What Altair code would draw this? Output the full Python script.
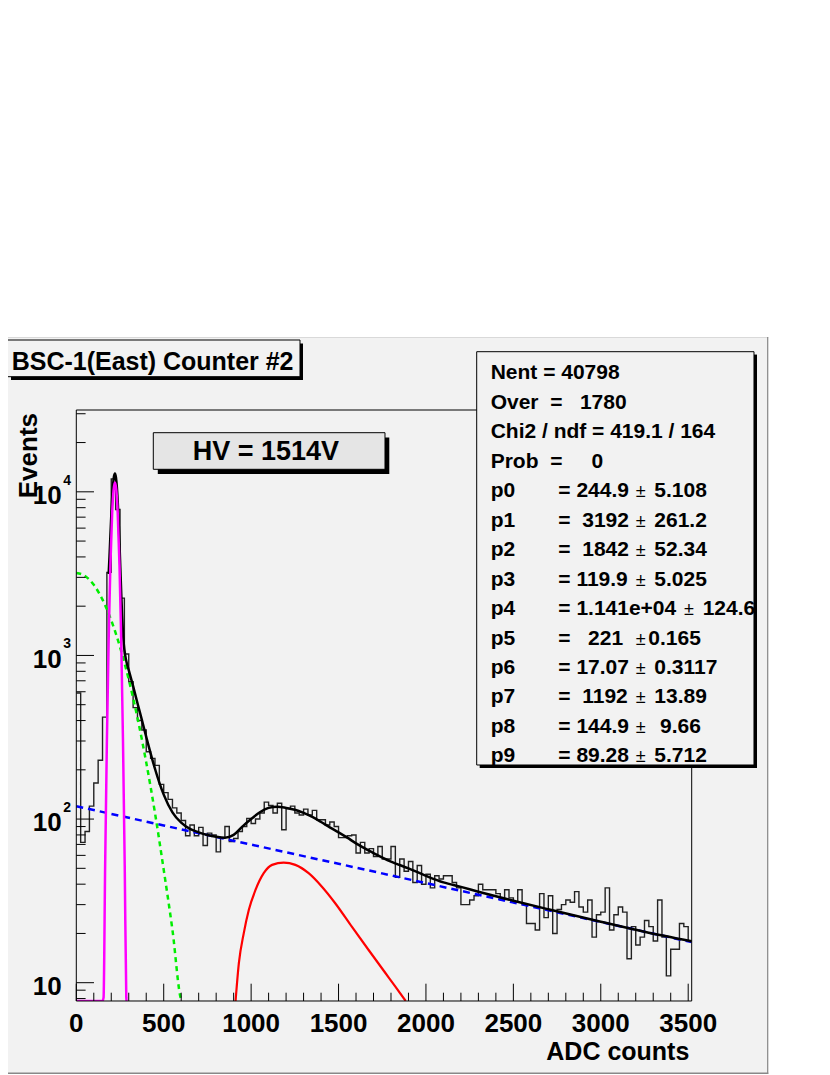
import altair as alt
import pandas as pd

# ---------------- data ----------------
BIN_WIDTH = 25
counts = [590, 72, 84, 120, 166, 229, 420, 3220, 12000, 7800,
          2240, 1020, 690, 480, 400, 350, 258, 235, 213, 163,
          145, 132, 117, 109, 98, 79, 92, 79, 89, 69,
          82, 80, 63, 77, 90, 73, 76, 84, 90, 101,
          94, 100, 109, 127, 121, 109, 125, 86, 116, 120,
          109, 106, 115, 106, 113, 99, 99, 92, 96, 90,
          77, 77, 79, 80, 62, 72, 62, 66, 59, 68,
          57, 57, 68, 44, 57, 48, 55, 41, 52, 40,
          46, 38, 45, 43, 45, 45, 41, 38, 30, 30,
          32, 34, 40, 37, 37, 37, 35, 32, 37, 33,
          31, 37, 30, 23, 23, 21, 35, 25, 34, 20,
          28, 30, 32, 31, 36, 29, 27, 32, 19, 26,
          27, 38, 21, 26, 29, 27, 14, 22, 17, 19,
          24, 22, 18, 32, 19, 11, 16, 16, 23, 22, 18]

# fit curves
black_x = [185, 190, 195, 200, 205, 210, 215, 221, 227, 232, 237, 242, 247, 252, 257, 262, 267, 272, 280, 290,
           300, 325, 350, 375, 400, 425, 450, 475, 500, 550, 600, 650, 700, 750, 800, 850, 900, 950, 1000, 1050,
           1100, 1150, 1200, 1250, 1300, 1350, 1400, 1450, 1500, 1550, 1600, 1700, 1800, 1900, 2000, 2100, 2200,
           2300, 2500, 2700, 3000, 3250, 3520]
black_y = [3146, 4050, 5376, 7100, 9047, 10910, 12310, 12930, 12184, 10678, 8712, 6660, 4833, 3405, 2399, 1760,
           1377, 1165, 996, 887, 813, 649, 510, 404, 318, 252, 203, 167, 141, 110, 95, 87, 83, 80, 78, 77, 80,
           90, 100, 110, 117, 119, 117, 114, 109, 103, 96, 89, 83, 77, 71, 62, 55, 50, 45, 41, 38.5, 36, 31.7,
           28.1, 23.6, 20.5, 17.9]
green_x = [0, 50, 100, 150, 200, 250, 300, 350, 400, 450, 500, 550, 600, 606]
green_y = [3192, 3062, 2701, 2194, 1638, 1126, 712, 415, 222, 109, 49, 21, 7.9, 7.73]
blue_x = [0, 500, 1000, 1500, 2000, 2500, 3000, 3520]
blue_y = [119.9, 91.4, 69.8, 53.3, 40.6, 30.9, 23.5, 17.7]
mag_x = [0, 150, 156, 165, 175, 185, 195, 205, 213, 221, 229, 237, 247, 257, 267, 277, 286, 288]
mag_y = [7.73, 7.73, 8.1, 52, 302, 1234, 3575, 7356, 10220, 11410, 10220, 7356, 3575, 1234, 302, 52, 8.1, 7.73]
red_x = [911, 930, 958, 987, 1025, 1072, 1120, 1186, 1253, 1329, 1405, 1481, 1576, 1671, 1767, 1824, 1884]
red_y = [7.73, 13.2, 20.1, 27.9, 36.9, 46.7, 52.5, 54.2, 52.5, 46.7, 38.6, 30.6, 22.0, 15.9, 11.5, 9.5, 7.73]

x_major = [0, 500, 1000, 1500, 2000, 2500, 3000, 3500]
x_minor = [v for v in range(100, 3501, 100) if v % 500]
y_major = [10, 100, 1000, 10000]
y_minor = [m * 10 ** e for e in range(0, 5) for m in range(2, 10) if 7.73 <= m * 10 ** e <= 31623]
y_sup = ["2", "3", "4"]

title_text = "BSC-1(East) Counter #2"
hv_text = "HV = 1514V"
NB = "\u00a0"
stat_head = ["Nent = 40798",
             "Over" + NB * 2 + "=" + NB * 3 + "1780",
             "Chi2 / ndf = 419.1 / 164",
             "Prob" + NB * 2 + "=" + NB * 5 + "0"]
par_names = ["p0", "p1", "p2", "p3", "p4", "p5", "p6", "p7", "p8", "p9"]
par_vals = ["=" + NB + "244.9", "=" + NB * 2 + "3192", "=" + NB * 2 + "1842", "=" + NB + "119.9",
            "=" + NB + "1.141e+04", "=" + NB * 3 + "221", "=" + NB + "17.07", "=" + NB * 2 + "1192",
            "=" + NB + "144.9", "=" + NB + "89.28"]
par_errs = ["5.108", "261.2", "52.34", "5.025", "124.6", "0.165", "0.3117", "13.89", "9.66", "5.712"]

# ---------------- geometry ----------------
W, H = 615.4, 591
FONT = "Liberation Sans"
xs = alt.Scale(domain=[0, 3520], nice=False, zero=False)
ys = alt.Scale(type="log", domain=[7.73, 31623], nice=False)
GRAY = "#f2f2f2"


def px(col):
    return alt.X(col, type="quantitative", scale=None, axis=None)


def py(col):
    return alt.Y(col, type="quantitative", scale=None, axis=None)


def rect(x, x2, y, y2, **kw):
    df = pd.DataFrame({"x": [x], "x2": [x2], "y": [y], "y2": [y2]})
    return alt.Chart(df).mark_rect(**kw).encode(x=px("x"), x2="x2", y=py("y"), y2="y2")


def text(df, **kw):
    base = dict(font=FONT, fontWeight="bold", color="black", baseline="alphabetic", align="left")
    base.update(kw)
    return alt.Chart(df).mark_text(**base).encode(x=px("x"), y=py("y"), text="t:N")


def curve(xv, yv, **kw):
    df = pd.DataFrame({"adc": xv, "v": yv})
    return alt.Chart(df).mark_line(clip=True, interpolate="monotone", **kw).encode(
        x=alt.X("adc:Q", scale=xs, axis=None), y=alt.Y("v:Q", scale=ys, axis=None))


layers = []
# canvas
layers.append(rect(-70, 692, -73, 664, fill=GRAY))
layers.append(rect(-70, 692, -73, -72, fill="#d9d9d9"))
layers.append(rect(690.8, 692, -73, 664, fill="#888888"))
layers.append(rect(-70, 692, 662.5, 664, fill="#888888"))

# title box
layers.append(rect(-65.3, 226.7, -66.5, -30, fill="black"))
layers.append(rect(-69, 223.7, -70, -33.3, fill=GRAY, stroke="black", strokeWidth=1))
layers.append(text(pd.DataFrame({"x": [-64.6], "y": [-40], "t": [title_text]}), fontSize=25))

# histogram
hist_df = pd.DataFrame({"adc": [i * BIN_WIDTH for i in range(len(counts))] + [len(counts) * BIN_WIDTH],
                        "v": counts + [counts[-1]]})
layers.append(alt.Chart(hist_df).mark_line(interpolate="step-after", clip=True, color="#222222",
                                           strokeWidth=1.4).encode(
    x=alt.X("adc:Q", scale=xs, axis=None), y=alt.Y("v:Q", scale=ys, axis=None)))

# fit curves
layers.append(curve(blue_x, blue_y, color="#0000ff", strokeWidth=2.5, strokeDash=[7, 5]))
layers.append(curve(green_x, green_y, color="#00ee00", strokeWidth=2.5, strokeDash=[5, 4]))
layers.append(curve(black_x, black_y, color="black", strokeWidth=2.5))
layers.append(curve(red_x, red_y, color="#ff0000", strokeWidth=2.2))
layers.append(curve(mag_x, mag_y, color="#ff00ff", strokeWidth=2.5))

# ticks
def xticks(vals, length):
    return alt.Chart(pd.DataFrame({"v": vals})).mark_rule(color="black", strokeWidth=1).encode(
        x=alt.X("v:Q", scale=xs, axis=None), y=alt.value(H), y2=alt.value(H - length))


def yticks(vals, length):
    return alt.Chart(pd.DataFrame({"v": vals})).mark_rule(color="black", strokeWidth=1).encode(
        y=alt.Y("v:Q", scale=ys, axis=None), x=alt.value(0), x2=alt.value(length))


layers += [xticks(x_major, 17.3), xticks(x_minor, 8.3), yticks(y_major, 17.7), yticks(y_minor, 9.3)]

# frame
layers.append(rect(0, W, 0, H, fillOpacity=0, stroke="black", strokeWidth=1))

# axis labels
layers.append(alt.Chart(pd.DataFrame({"v": x_major, "t": [str(v) for v in x_major]})).mark_text(
    font=FONT, fontWeight="bold", fontSize=26, align="center", baseline="alphabetic", color="black").encode(
    x=alt.X("v:Q", scale=xs, axis=None), y=alt.value(622), text="t:N"))
layers.append(alt.Chart(pd.DataFrame({"v": y_major, "t": ["10"] * 4})).mark_text(
    font=FONT, fontWeight="bold", fontSize=26, align="right", baseline="alphabetic", color="black",
    dy=12.3).encode(y=alt.Y("v:Q", scale=ys, axis=None), x=alt.value(-14.6), text="t:N"))
layers.append(alt.Chart(pd.DataFrame({"v": y_major[1:], "t": y_sup})).mark_text(
    font=FONT, fontWeight="bold", fontSize=14, align="left", baseline="alphabetic", color="black",
    dy=-7.3).encode(y=alt.Y("v:Q", scale=ys, axis=None), x=alt.value(-13), text="t:N"))
layers.append(text(pd.DataFrame({"x": [-39], "y": [3], "t": ["Events"]}), fontSize=26, angle=270,
                   align="right"))
layers.append(text(pd.DataFrame({"x": [613], "y": [650], "t": ["ADC counts"]}), fontSize=25, align="right"))

# HV box
layers.append(rect(81.5, 313, 27.5, 64, fill="black"))
layers.append(rect(77, 308.7, 22.7, 59.3, fill="#e5e5e5", stroke="black", strokeWidth=1))
layers.append(text(pd.DataFrame({"x": [189.7], "y": [50], "t": [hv_text]}), fontSize=27, align="center"))

# stats box
layers.append(rect(403.4, 680.7, -55.3, 358, fill="black"))
layers.append(rect(400.4, 677.7, -58.3, 355, fill=GRAY, stroke="black", strokeWidth=1))
row_y = [-30.7 + 29.47 * i for i in range(14)]
layers.append(text(pd.DataFrame({"x": [414.4] * 4, "y": row_y[:4], "t": stat_head}), fontSize=21))
layers.append(text(pd.DataFrame({"x": [414.4] * 10, "y": row_y[4:], "t": par_names}), fontSize=21))
layers.append(text(pd.DataFrame({"x": [482] * 10, "y": row_y[4:], "t": par_vals}), fontSize=21))
pm_x = [559.4] * 10
pm_x[4] = 607.7
layers.append(alt.Chart(pd.DataFrame({"x": pm_x, "y": row_y[4:], "t": ["\u00b1"] * 10})).mark_text(
    font=FONT, fontSize=18, color="black", baseline="alphabetic", align="left").encode(
    x=px("x"), y=py("y"), text="t:N"))
err_x = [578] * 10
err_x[4] = 626.4
err_x[5] = 572
err_x[8] = 583.7
layers.append(text(pd.DataFrame({"x": err_x, "y": row_y[4:], "t": par_errs}), fontSize=21))
layers.append(rect(677.7, 680.7, -55.3, 358, fill="black"))
layers.append(rect(681, 690, -50, 358, fill=GRAY))

chart = alt.layer(*layers).resolve_scale(x="independent", y="independent").properties(
    width=W, height=H, autosize="none", background="white",
    padding={"left": 68.3, "top": 402, "right": 80, "bottom": 73},
).configure_view(stroke=None)

chart.save("out.html", embed_options={"renderer": "svg", "actions": False})
